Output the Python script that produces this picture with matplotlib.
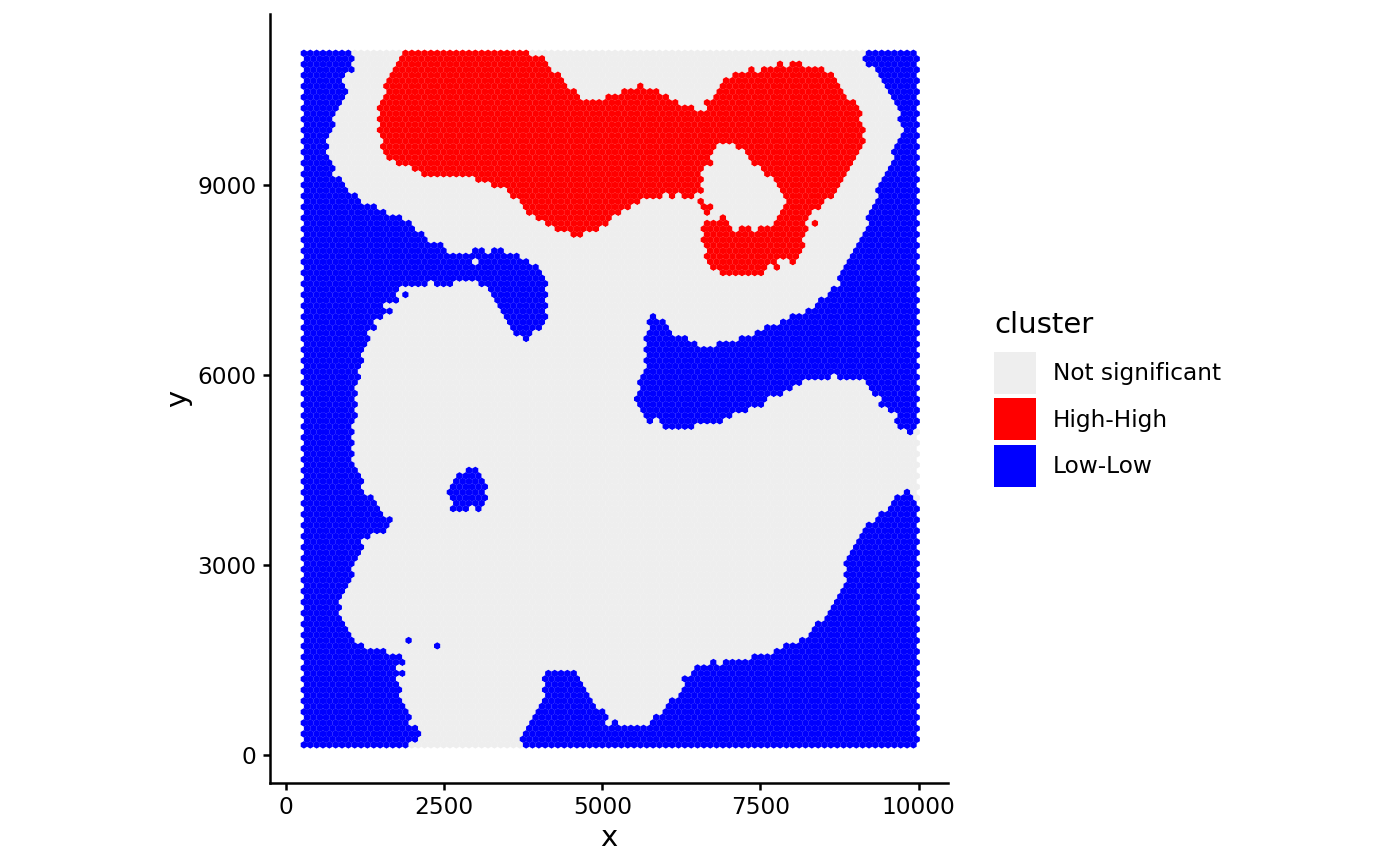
import numpy as np
import matplotlib
matplotlib.use('Agg')
import matplotlib.pyplot as plt
from matplotlib.patches import Patch

## spot grid: 127 rows, 97 spots per row, odd rows shifted
x_even = 288
x_odd = 338
x_step = 100.3
y_top = 11085
y_step = 86.7
n_rows = 127
n_cols = 97

clusters = ['Not significant', 'High-High', 'Low-Low']
colors = ['#EEEEEE', '#FF0000', '#0000FF']

## per row (top to bottom): x ranges [start, end, start, end, ...] of Low-Low spots
low_spans = [
    [0, 1032, 9151, 9999], [0, 1079, 9099, 9999], [0, 1032, 9151, 9999], [0, 1079, 9283, 9999],
    [0, 937, 9320, 9999], [0, 937, 9399, 9999], [0, 937, 9441, 9999], [0, 979, 9494, 9999],
    [0, 895, 9546, 9999], [0, 884, 9599, 9999], [0, 832, 9652, 9999], [0, 821, 9694, 9999],
    [0, 779, 9704, 9999], [0, 753, 9747, 9999], [0, 726, 9757, 9999], [0, 674, 9694, 9999],
    [0, 631, 9652, 9999], [0, 658, 9652, 9999], [0, 674, 9610, 9999], [0, 689, 9599, 9999],
    [0, 737, 9546, 9999], [0, 768, 9536, 9999], [0, 768, 9483, 9999], [0, 868, 9441, 9999],
    [0, 937, 9415, 9999], [0, 1016, 9362, 9999], [0, 1137, 9336, 9999], [0, 1184, 9310, 9999],
    [0, 1427, 9283, 9999], [0, 1579, 9204, 9999], [0, 1822, 9204, 9999], [0, 1990, 9178, 9999],
    [0, 2032, 9125, 9999], [0, 2190, 9099, 9999], [0, 2227, 9046, 9999], [0, 2480, 9020, 9999],
    [0, 2559, 2938, 3138, 3238, 3438, 8967, 9999], [0, 3686, 8941, 9999],
    [0, 2938, 3033, 3817, 8888, 9999], [0, 4007, 8836, 9999], [0, 4044, 8809, 9999],
    [0, 4081, 8757, 9999], [0, 2227, 2343, 2622, 3043, 4175, 8730, 9999],
    [0, 1832, 3201, 4133, 8599, 9999], [0, 1790, 1843, 1927, 3254, 4139, 8546, 9999],
    [0, 1779, 3307, 4123, 8388, 9999], [0, 1542, 3333, 4133, 8346, 9999],
    [0, 1685, 3396, 4112, 8188, 9999], [0, 1542, 3438, 4107, 5739, 5834, 7940, 9999],
    [0, 1437, 3517, 4086, 5744, 5992, 7793, 9999], [0, 1427, 3544, 4033, 5744, 6029, 7545, 9999],
    [0, 1295, 3586, 3886, 5744, 6081, 7387, 9999],
    [0, 1332, 3738, 3833, 5639, 5734, 5797, 6345, 7135, 9999],
    [0, 1279, 5744, 6482, 6798, 9999], [0, 1226, 5702, 9999], [0, 1184, 5692, 9999],
    [0, 1226, 5639, 9999], [0, 1184, 5676, 9999], [0, 1148, 5623, 9999],
    [0, 1184, 5586, 8599, 8693, 9999], [0, 1132, 5544, 8125, 9188, 9999],
    [0, 1132, 5571, 7993, 9231, 9999], [0, 1132, 5534, 7835, 9283, 9999],
    [0, 1121, 5492, 7598, 9378, 9999], [0, 1121, 5544, 7535, 9415, 9999],
    [0, 1095, 5586, 7282, 9494, 9999], [0, 1132, 5676, 7045, 9625, 9999],
    [0, 1084, 5692, 5787, 5887, 6877, 9641, 9999], [0, 1084, 5939, 6429, 9641, 9941],
    [0, 1084, 9799, 9889], [0, 1074], [0, 1084], [0, 1074], [0, 1084], [0, 1084],
    [0, 1121], [0, 1148, 2833, 3033], [0, 1158, 2685, 3070], [0, 1226, 2633, 3122],
    [0, 1237, 2580, 3175], [0, 1279, 2533, 3122, 9747, 9836], [0, 1374, 2580, 3175, 9589, 9889],
    [0, 1437, 2685, 3122, 9536, 9941], [0, 1474, 2585, 2885, 2980, 3080, 9494, 9999],
    [0, 1527, 9336, 9999], [0, 1674, 9299, 9999], [0, 1621, 9136, 9999], [0, 1579, 9083, 9999],
    [0, 1332, 9046, 9999], [0, 1174, 8994, 9999], [0, 1237, 8941, 9999], [0, 1174, 8888, 9999],
    [0, 1132, 8836, 9999], [0, 1084, 8794, 9999], [0, 1053, 8846, 9999], [0, 1079, 8783, 9999],
    [0, 1016, 8836, 9999], [0, 979, 8783, 9999], [0, 937, 8730, 9999], [0, 900, 8693, 9999],
    [0, 858, 8625, 9999], [0, 858, 8599, 9999], [0, 868, 8546, 9999], [0, 900, 8493, 9999],
    [0, 926, 8335, 9999], [0, 979, 8283, 9999], [0, 1026, 8230, 9999],
    [0, 1084, 1885, 1979, 8098, 9999], [0, 1226, 2338, 2432, 7845, 9999],
    [0, 1579, 7688, 9999], [0, 1822, 7345, 9999], [0, 1885, 6692, 6782, 6898, 9999],
    [0, 1737, 6429, 9999], [0, 1885, 4097, 4581, 6387, 9999], [0, 1753, 4097, 4623, 6239, 9999],
    [0, 1790, 4086, 4676, 6282, 9999], [0, 1832, 4044, 4718, 6218, 9999],
    [0, 1822, 4086, 4770, 6176, 9999], [0, 1874, 4044, 4823, 6045, 9999],
    [0, 1895, 3991, 4886, 5992, 9999], [0, 1937, 3928, 5044, 5913, 9999],
    [0, 1979, 3886, 5097, 5797, 9999], [0, 1911, 3833, 5086, 5150, 5228, 5744, 9999],
    [0, 2085, 3780, 9999], [0, 2138, 3728, 9999], [0, 2080, 3691, 9999], [0, 1937, 3728, 9999],
]

## same for High-High, only the upper rows have any
high_spans = [
    [1858, 3823], [1795, 4107], [1743, 4133, 7740, 7835, 7940, 8135],
    [1727, 4175, 7293, 7387, 7493, 8483], [1637, 4344, 7029, 8641], [1595, 4386, 6898, 8704],
    [1585, 4439, 5544, 5634, 6850, 8757], [1569, 4597, 5281, 5887, 6835, 8809],
    [1527, 4649, 5033, 6029, 6729, 8888], [1506, 6192, 6587, 8967], [1437, 6440, 6661, 9030],
    [1464, 9083], [1453, 9099], [1464, 9136], [1437, 9136], [1506, 9083], [1506, 9136],
    [1490, 6808, 7082, 9083], [1527, 6766, 7229, 9030], [1595, 6729, 7293, 8994],
    [1727, 6729, 7387, 8957], [1990, 6640, 7493, 8904], [2138, 6587, 7598, 8872],
    [2991, 6597, 7677, 8809], [3243, 6571, 7730, 8783], [3491, 6587, 7782, 8693],
    [3544, 5939, 6018, 6134, 6229, 6429, 7835, 8641],
    [3728, 5571, 6482, 6587, 7888, 8546], [3754, 5428, 6587, 6729, 7851, 8441],
    [3817, 5270, 6597, 6692, 7782, 8283], [3949, 5150, 6850, 6940, 7740, 8283],
    [4086, 5086, 6587, 7008, 7693, 8256, 8293, 8399],
    [4244, 4981, 6545, 7082, 7135, 7335, 7440, 8230], [4491, 4686, 6587, 8230],
    [6597, 8188], [6587, 8188], [6640, 8114], [6650, 8114], [6640, 7730, 7940, 8030],
    [6729, 7640, 7693, 7782], [6835, 7545],
]

xticks = [0, 2500, 5000, 7500, 10000]
yticks = [0, 3000, 6000, 9000]


def in_spans(x, spans):
    for a, b in zip(spans[::2], spans[1::2]):
        if a <= x <= b:
            return True
    return False


def main():
    xs, ys, cs = [], [], []
    for i in range(n_rows):
        low = low_spans[i]
        high = high_spans[i] if i < len(high_spans) else []
        x0 = x_even if i % 2 == 0 else x_odd
        for k in range(n_cols):
            x = x0 + k * x_step
            xs.append(x)
            ys.append(y_top - i * y_step)
            if in_spans(x, high):
                cs.append(colors[1])
            elif in_spans(x, low):
                cs.append(colors[2])
            else:
                cs.append(colors[0])

    fig = plt.figure(figsize=(7, 4.33), dpi=200)
    ax = fig.add_axes([269.5 / 1400, 1 - 783 / 866, (948 - 269.5) / 1400, (783 - 14) / 866])
    ax.scatter(xs, ys, c=cs, s=7.3, marker='h', linewidths=0)
    ax.set_xlim(-256, 10463)
    ax.set_ylim(-442, 11706)
    ax.set_xticks(xticks)
    ax.set_yticks(yticks)
    ax.tick_params(labelsize=8.4, width=0.9, length=2.6, pad=2)
    ax.spines['top'].set_visible(False)
    ax.spines['right'].set_visible(False)
    ax.spines['left'].set_linewidth(0.9)
    ax.spines['bottom'].set_linewidth(0.9)
    ax.set_xlabel('x', fontsize=10.5, labelpad=2)
    ax.set_ylabel('y', fontsize=10.5, labelpad=2)

    handles = [Patch(facecolor=c, edgecolor='none', label=l) for c, l in zip(colors, clusters)]
    leg = fig.legend(handles=handles, title='cluster', loc='upper left',
                     bbox_to_anchor=(994 / 1400, 1 - 311 / 866), frameon=False, fontsize=8.4,
                     title_fontsize=10.5, alignment='left', borderpad=0, borderaxespad=0,
                     handlelength=1.8, handleheight=2.39, handletextpad=0.72, labelspacing=0.2)
    ## more room under the title than between the keys
    leg._legend_box.sep = 4.6
    fig.savefig('out.png', dpi=200)


if __name__ == '__main__':
    main()
